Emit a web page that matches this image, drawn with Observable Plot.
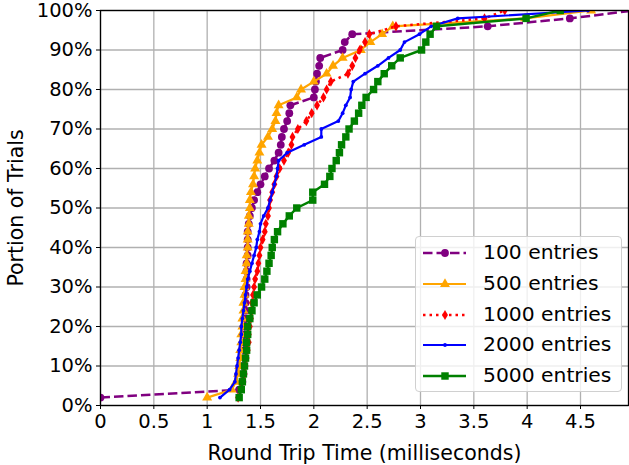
<!DOCTYPE html>
<html><head><meta charset="utf-8">
<script src="https://cdn.jsdelivr.net/npm/d3@7"></script>
<script src="https://cdn.jsdelivr.net/npm/@observablehq/plot@0.6"></script>
<style>
body{margin:0;background:#fff;}
#wrap{position:relative;width:629px;height:465px;font-family:"DejaVu Sans",sans-serif;}
#legend{position:absolute;left:415px;top:236px;width:207px;height:156px;box-sizing:border-box;border:1px solid #d0d0d0;border-radius:4px;background:rgba(255,255,255,0.8);}
.row{position:absolute;left:0;height:30px;width:205px;}
.row svg{position:absolute;left:7px;top:0;}
.row span{position:absolute;left:67px;top:2px;font-size:20.3px;line-height:24px;color:#000;white-space:nowrap;}
</style></head><body><div id="wrap"></div>
<script>
// Portion of trials (%) for each sorted measurement
const portion = [2,4,6,8,10,12,14,16,18,20,22,24,26,28,30,32,34,36,38,40,42,44,46,48,50,52,54,56,58,60,62,64,66,68,70,72,74,76,78,80,82,84,86,88,90,92,94,96,98,100];

// Round trip times (ms), sorted, per series
const rtt100 = [0.00,1.30,1.33,1.34,1.34,1.35,1.35,1.35,1.35,1.36,1.36,1.36,1.36,1.36,1.37,1.37,1.37,1.37,1.38,1.38,1.38,1.38,1.39,1.40,1.42,1.44,1.47,1.50,1.54,1.58,1.63,1.67,1.69,1.70,1.72,1.75,1.77,1.78,2.00,2.01,2.02,2.03,2.05,2.06,2.27,2.29,2.36,3.63,4.40,5.00];
const rtt500 = [1.00,1.23,1.27,1.29,1.30,1.31,1.31,1.32,1.32,1.33,1.33,1.34,1.34,1.35,1.35,1.36,1.36,1.37,1.37,1.38,1.38,1.38,1.39,1.39,1.40,1.40,1.41,1.43,1.44,1.45,1.47,1.49,1.51,1.57,1.61,1.64,1.65,1.67,1.84,1.88,2.00,2.12,2.18,2.27,2.44,2.53,2.64,2.74,3.98,4.60];
const rtt1000 = [1.29,1.31,1.33,1.35,1.36,1.37,1.38,1.39,1.39,1.40,1.41,1.42,1.42,1.43,1.44,1.45,1.47,1.48,1.49,1.50,1.52,1.54,1.55,1.57,1.58,1.59,1.61,1.63,1.65,1.68,1.72,1.76,1.79,1.80,1.85,1.93,1.98,2.03,2.09,2.12,2.16,2.32,2.36,2.39,2.43,2.48,2.52,2.77,3.60,3.79];
const rtt2000 = [1.12,1.21,1.26,1.27,1.28,1.29,1.30,1.31,1.32,1.32,1.33,1.34,1.35,1.36,1.37,1.38,1.40,1.42,1.44,1.46,1.47,1.49,1.50,1.53,1.57,1.59,1.61,1.63,1.65,1.66,1.67,1.75,1.91,2.07,2.07,2.23,2.27,2.30,2.34,2.35,2.37,2.48,2.60,2.70,2.81,2.85,2.99,3.10,3.35,4.57];
const rtt5000 = [1.30,1.32,1.33,1.34,1.35,1.36,1.37,1.37,1.38,1.38,1.40,1.42,1.44,1.47,1.51,1.54,1.56,1.58,1.60,1.61,1.63,1.66,1.71,1.77,1.84,1.99,1.99,2.10,2.15,2.17,2.21,2.24,2.26,2.30,2.33,2.38,2.42,2.45,2.49,2.56,2.60,2.66,2.73,2.81,3.01,3.05,3.09,3.15,3.99,4.31];

const seriesNames = ["100 entries","500 entries","1000 entries","2000 entries","5000 entries"];
const seriesValues = [rtt100, rtt500, rtt1000, rtt2000, rtt5000];
const xTicks = [0,0.5,1,1.5,2,2.5,3,3.5,4,4.5];
const yTicks = [0,10,20,30,40,50,60,70,80,90,100];
const xLabel = "Round Trip Time (milliseconds)";
const yLabel = "Portion of Trials";

const styles = [
  {color:"#800080", dash:"9.5,4", width:2.5, symbol:"circle", r:3.9},
  {color:"#FFA500", dash:null, width:2.2, symbol:"triangle", r:3.7},
  {color:"#FF0000", dash:"2.5,4", width:2.5, symbol:"diamond", r:3.1},
  {color:"#0000FF", dash:null, width:2.2, symbol:"circle", r:1.9},
  {color:"#008000", dash:null, width:2.5, symbol:"square", r:4.2}
];

const tables = seriesValues.map((vals, i) => vals.map((v, j) => ({x: v, y: portion[j], s: seriesNames[i]})));

const marks = [
  Plot.gridX(xTicks, {stroke:"#b0b0b0", strokeOpacity:1, strokeWidth:1.3}),
  Plot.gridY(yTicks, {stroke:"#b0b0b0", strokeOpacity:1, strokeWidth:1.3})
];
tables.forEach((t, i) => {
  const st = styles[i];
  marks.push(Plot.line(t, {x:"x", y:"y", stroke:st.color, strokeWidth:st.width, strokeDasharray:st.dash, strokeLinecap:"butt", clip:true}));
  marks.push(Plot.dot(t, {x:"x", y:"y", fill:st.color, stroke:"none", symbol:st.symbol, r:st.r, clip:true}));
});
marks.push(Plot.frame({stroke:"#000", strokeWidth:1.3}));
marks.push(Plot.axisX({ticks:xTicks, tickSize:4, tickPadding:5, tickFormat:d=>String(d), label:null}));
marks.push(Plot.axisY({ticks:yTicks, tickSize:4, tickPadding:4, tickFormat:d=>d+"%", label:null}));
marks.push(Plot.axisX({ticks:[], label:xLabel, labelAnchor:"center", labelArrow:"none", labelOffset:54, fontSize:20.5}));
marks.push(Plot.axisY({ticks:[], label:yLabel, labelAnchor:"center", labelArrow:"none", labelOffset:92, fontSize:20.5}));

const chart = Plot.plot({
  width:629, height:465,
  marginLeft:100, marginRight:1, marginTop:10, marginBottom:60,
  x:{domain:[0,4.95]},
  y:{domain:[0,100]},
  style:{fontSize:"19.5px", fontFamily:"DejaVu Sans", color:"#000", background:"#fff"},
  marks
});
const wrap = document.getElementById("wrap");
wrap.appendChild(chart);

// Legend
const leg = document.createElement("div");
leg.id = "legend";
seriesNames.forEach((name, i) => {
  const st = styles[i];
  const row = document.createElement("div");
  row.className = "row";
  row.style.top = (1 + 30.8*i) + "px";
  const sym = d3.symbol().type({circle:d3.symbolCircle, triangle:d3.symbolTriangle, diamond:d3.symbolDiamond, square:d3.symbolSquare}[st.symbol]).size(Math.PI*st.r*st.r)();
  row.innerHTML = `<svg width="44" height="30"><line x1="0" x2="43" y1="15" y2="15" stroke="${st.color}" stroke-width="${st.width}" ${st.dash?`stroke-dasharray="${st.dash}"`:""}/><path d="${sym}" transform="translate(22,15)" fill="${st.color}"/></svg><span>${name}</span>`;
  leg.appendChild(row);
});
wrap.appendChild(leg);
</script>
</body></html>
